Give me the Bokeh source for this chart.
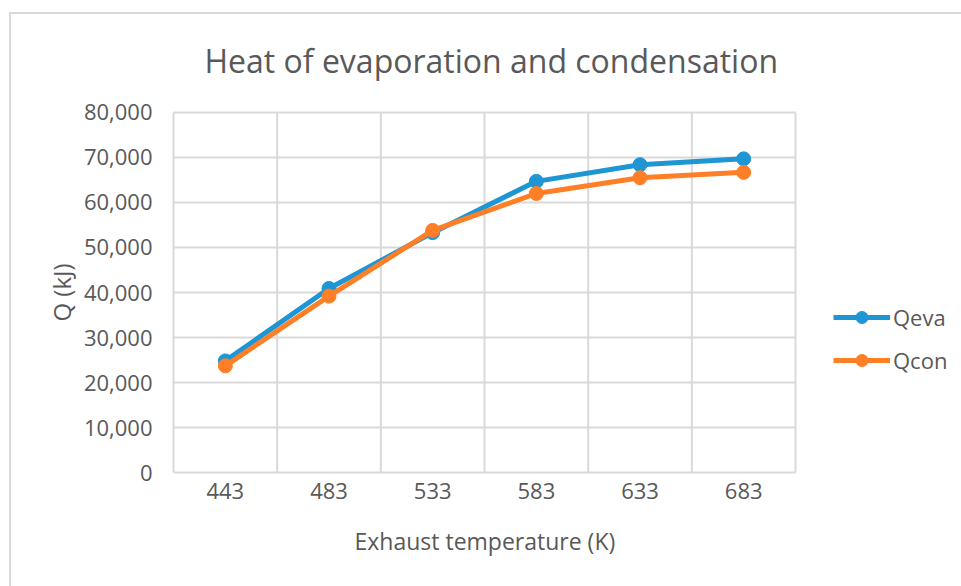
from bokeh.plotting import figure
from bokeh.models import (Range1d, FixedTicker, NumeralTickFormatter,
                          Legend, LegendItem, Title)
from bokeh.embed import file_html
from bokeh.resources import INLINE

temps = ["443", "483", "533", "583", "633", "683"]
q_eva = [24800, 40900, 53300, 64700, 68400, 69700]
q_con = [23700, 39200, 53800, 62000, 65500, 66700]
y_ticks = [0, 10000, 20000, 30000, 40000, 50000, 60000, 70000, 80000]

BLUE = "#1f96d4"
ORANGE = "#ff7f27"
TXT = "#595959"
GRID = "#d9d9d9"
FONT = "Open Sans"

n = len(temps)
x_pos = [i + 0.5 for i in range(n)]          # category centres
x_edges = list(range(n + 1))                 # category boundaries (vertical gridlines)
y_max = y_ticks[-1]

p = figure(width=961, height=586, output_backend="svg", toolbar_location=None,
           x_range=Range1d(-0.0193, 7.601), y_range=Range1d(-444, 80444),
           min_border_left=171, min_border_right=0, min_border_top=110, min_border_bottom=112)

p.styles = {
    "background": ("linear-gradient(#d9d9d9,#d9d9d9) 9px 12px / 2px 100% no-repeat, "
                   "linear-gradient(#d9d9d9,#d9d9d9) 9px 12px / 100% 2px no-repeat, white"),
}

p.title = Title(text="Heat of evaporation and condensation", align="left",
                text_font=FONT, text_font_size="32px", text_font_style="normal",
                text_color=TXT, standoff=58, offset=33)

p.outline_line_color = None
p.background_fill_alpha = 0
p.border_fill_color = None
p.xgrid.visible = False
p.ygrid.visible = False

# plot-area gridlines (Excel style: vertical lines between categories)
p.segment(x0=x_edges, x1=x_edges, y0=[0] * len(x_edges), y1=[y_max] * len(x_edges),
          line_color=GRID, line_width=2)
p.segment(x0=[0] * len(y_ticks), x1=[n] * len(y_ticks), y0=y_ticks, y1=y_ticks,
          line_color=GRID, line_width=2)

for ax in (p.xaxis[0], p.yaxis[0]):
    ax.axis_line_color = None
    ax.major_tick_line_color = None
    ax.minor_tick_line_color = None
    ax.major_label_text_font = FONT
    ax.major_label_text_font_size = "22px"
    ax.major_label_text_color = TXT
    ax.axis_label_text_font = FONT
    ax.axis_label_text_font_style = "normal"
    ax.axis_label_text_color = TXT

p.yaxis.ticker = FixedTicker(ticks=y_ticks)
p.yaxis.formatter = NumeralTickFormatter(format="0,0")
p.yaxis.major_label_standoff = 13
p.yaxis.axis_label = "Q (kJ)"
p.yaxis.axis_label_text_font_size = "24px"
p.yaxis.axis_label_standoff = 3

p.xaxis.ticker = FixedTicker(ticks=x_pos)
p.xaxis.major_label_overrides = {x: t for x, t in zip(x_pos, temps)}
p.xaxis.major_label_standoff = 2

# x-axis title, centred under the plot area (not under the whole frame)
p.add_layout(Title(text="Exhaust temperature (K)", align="left", offset=183,
                   text_font=FONT, text_font_size="23px", text_font_style="normal",
                   text_color=TXT, standoff=43), "below")

l1 = p.line(x_pos, q_eva, line_color=BLUE, line_width=5)
s1 = p.scatter(x_pos, q_eva, size=14, fill_color=BLUE, line_color=BLUE)
l2 = p.line(x_pos, q_con, line_color=ORANGE, line_width=5)
s2 = p.scatter(x_pos, q_con, size=14, fill_color=ORANGE, line_color=ORANGE)

legend = Legend(items=[LegendItem(label="Qeva", renderers=[l1, s1]),
                       LegendItem(label="Qcon", renderers=[l2, s2])],
                location=(662, 99), padding=0, margin=0, spacing=13,
                glyph_width=57, glyph_height=30, label_height=30, label_standoff=3,
                label_text_font=FONT, label_text_font_size="22px", label_text_color=TXT,
                border_line_color=None, background_fill_alpha=0)
p.add_layout(legend)

open("out.html", "w").write(file_html(p, INLINE))
